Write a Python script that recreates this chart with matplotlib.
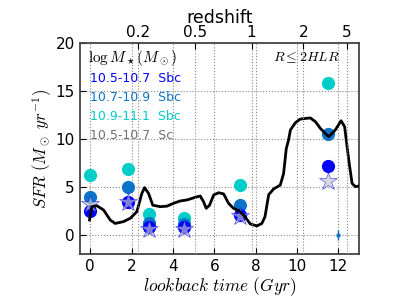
import numpy as np
import matplotlib
matplotlib.use("Agg")
import matplotlib.pyplot as plt

plt.rcParams["mathtext.fontset"] = "cm"

# star formation history (lookback time in Gyr, SFR)
sfh_t = [-0.03, 0.08, 0.32, 0.65, 0.97, 1.21, 1.61, 1.94, 2.26, 2.5, 2.63, 2.82,
         3.03, 3.39, 3.71, 4.03, 4.35, 4.68, 5.08, 5.32, 5.48, 5.61, 5.77, 5.97,
         6.21, 6.45, 6.69, 6.93, 7.2, 7.45, 7.74, 8.06, 8.3, 8.45, 8.63, 8.87,
         9.19, 9.35, 9.48, 9.59, 9.68, 9.92, 10.16, 10.64, 10.89, 11.13, 11.53,
         11.85, 12.13, 12.3, 12.5, 12.66, 12.82, 12.98]
sfh_sfr = [1.56, 2.95, 3.05, 2.6, 1.56, 1.2, 1.39, 1.74, 2.43, 4.34, 4.93, 4.34,
           3.1, 2.95, 3.0, 3.3, 3.54, 3.65, 3.92, 4.06, 3.47, 2.78, 3.1, 4.17,
           4.4, 4.28, 3.3, 2.78, 2.5, 2.0, 1.15, 0.94, 1.2, 1.9, 4.2, 4.8,
           5.2, 6.4, 9.0, 9.9, 10.94, 11.7, 12.08, 12.2, 11.8, 11.1, 10.24,
           10.94, 11.9, 11.28, 7.8, 5.38, 5.03, 5.1]

# galaxy samples at several lookback times
t_obs = [0.0, 1.82, 2.85, 4.56, 7.26, 11.5]
sfr_sbc_low = [2.53, 3.47, 0.8, 0.8, 2.08, 7.19]    # 10.5-10.7 Sbc
sfr_sbc_mid = [3.92, 5.03, 1.28, 1.1, 3.1, 10.5]    # 10.7-10.9 Sbc
sfr_sbc_high = [6.25, 6.84, 2.19, 1.8, 5.2, 15.8]   # 10.9-11.1 Sbc
sfr_sc_low = [3.2, 3.47, 0.6, 0.6, 1.98, 5.66]      # 10.5-10.7 Sc
mid_err = [0, 0, 0, 0, 0, 0.6]

# typical uncertainty point
err_t, err_sfr, err_size = 12.0, 0.0, 0.5

# redshift axis
z_labels = ["0.2", "0.5", "1", "2", "5"]
z_lookback = [2.3, 5.08, 7.8, 10.3, 12.4]

c_low, c_mid, c_high, c_sc = "#0000ff", "#0b74c9", "#00cdc8", "#707070"

fig = plt.figure(figsize=(3.99, 2.99), dpi=100)
ax = fig.add_axes([0.2, 0.15, 0.7, 0.706])

ax.plot(t_obs, sfr_sbc_high, "o", ms=9.5, color=c_high, mec="none", zorder=3)
ax.errorbar(t_obs, sfr_sbc_mid, yerr=mid_err, fmt="o", ms=9.5, color=c_mid,
            mec="none", elinewidth=1, zorder=4)
ax.plot(t_obs, sfr_sbc_low, "o", ms=9.5, color=c_low, mec="none", zorder=5)
ax.plot(t_obs, sfr_sc_low, "*", ms=13.5, mfc="#c4c4c4", mec=c_low, mew=0.5,
        alpha=0.65, zorder=6)
ax.errorbar([err_t], [err_sfr], yerr=[err_size], fmt="o", ms=2, color=c_mid,
            elinewidth=1, zorder=6)
ax.plot(sfh_t, sfh_sfr, color="black", lw=2, zorder=7)

ax.set_xlim(-0.5, 13)
ax.set_ylim(-2, 20)
ax.set_xticks([0, 2, 4, 6, 8, 10, 12])
ax.set_yticks([0, 5, 10, 15, 20])
ax.tick_params(labelsize=11, direction="in", length=4)
ax.grid(True, ls=":", color="#888888", lw=0.8)
for sp in ax.spines.values():
    sp.set_color("#444444")
    sp.set_linewidth(1.3)

ax.set_xlabel(r"$lookback\ time\ (Gyr)$", fontsize=12.5, labelpad=1)
ax.set_ylabel(r"$SFR\ (M_\odot\ yr^{-1})$", fontsize=12, labelpad=1)

top = ax.twiny()
top.set_xlim(ax.get_xlim())
top.set_xticks(z_lookback)
top.set_xticklabels(z_labels)
top.tick_params(labelsize=11, direction="in", length=4, pad=2)
top.set_xlabel("redshift", fontsize=12.5, labelpad=2)
top.grid(True, ls=":", color="#888888", lw=0.8)
top.spines[:].set_visible(False)

ax.text(0.03, 0.93, r"$\log M_\star (M_\odot)$", transform=ax.transAxes,
        fontsize=11, va="center", ha="left")
labels = ["10.5-10.7  Sbc", "10.7-10.9  Sbc", "10.9-11.1  Sbc", "10.5-10.7  Sc"]
for i, (lab, c) in enumerate(zip(labels, [c_low, c_mid, c_high, c_sc])):
    ax.text(0.035, 0.83 - i * 0.09, lab, color=c, transform=ax.transAxes,
            fontsize=9, va="center", ha="left")
ax.text(0.93, 0.93, r"$R \leq 2HLR$", transform=ax.transAxes, fontsize=10,
        va="center", ha="right")

fig.savefig("out.png", dpi=100)
